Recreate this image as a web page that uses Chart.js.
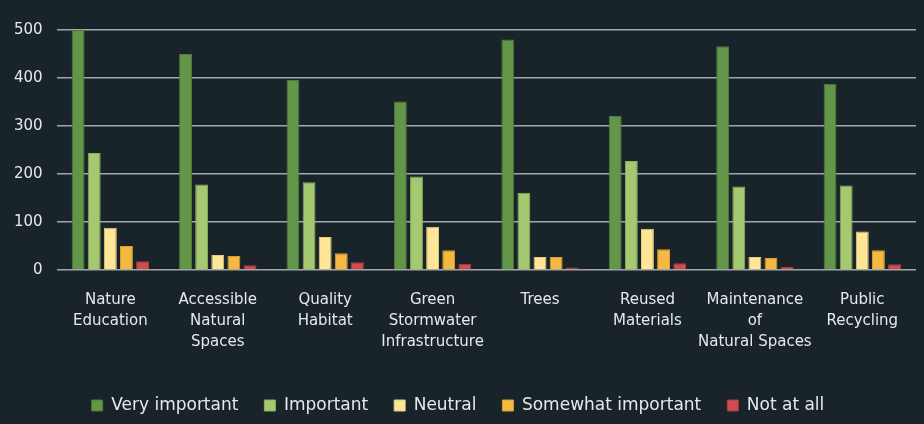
<!DOCTYPE html>
<html>
<head>
<meta charset="utf-8">
<script src="https://cdn.jsdelivr.net/npm/chart.js@4.4.1/dist/chart.umd.min.js"></script>
<style>
	html, body { margin: 0; padding: 0; background: #18242a; }
	#wrap { width: 924px; height: 424px; }
</style>
</head>
<body>
<div id="wrap"><canvas id="barChart"></canvas></div>
<script>
// categories (multi-line labels)
var categories = [
	['Nature', 'Education'],
	['Accessible', 'Natural', 'Spaces'],
	['Quality', 'Habitat'],
	['Green', 'Stormwater', 'Infrastructure'],
	['Trees'],
	['Reused', 'Materials'],
	['Maintenance', 'of', 'Natural Spaces'],
	['Public', 'Recycling']
];

// series values
var veryImportant = [500, 450, 396, 351, 480, 321, 466, 388];
var important = [244, 178, 183, 195, 161, 227, 174, 176];
var neutral = [88, 31, 69, 90, 27, 86, 27, 80];
var somewhatImportant = [50, 29, 35, 41, 27, 43, 25, 41];
var notAtAll = [18, 10, 16, 13, 5, 14, 6, 12];

// y ticks
var yTicks = [0, 100, 200, 300, 400, 500];

var ctx = document.getElementById('barChart').getContext('2d');

function series(label, data, fill, stroke) {
	return {
		label: label,
		data: data,
		backgroundColor: fill,
		borderColor: stroke,
		borderWidth: 1,
		categoryPercentage: 0.75,
		barPercentage: 0.8
	};
}

var barChart = new Chart(ctx, {
	type: 'bar',
	data: {
		labels: categories,
		datasets: [
			series('Very important', veryImportant, '#639648', '#4f7a3b'),
			series('Important', important, '#a5c971', '#8fae60'),
			series('Neutral', neutral, '#ffe596', '#e6cc80'),
			series('Somewhat important', somewhatImportant, '#f5b941', '#d99f33'),
			series('Not at all', notAtAll, '#cf4c50', '#b03c40')
		]
	},
	options: {
		responsive: true,
		maintainAspectRatio: false,
		animation: false,
		layout: {
			padding: { top: 30, left: 0, right: 8, bottom: 0 }
		},
		plugins: {
			tooltip: { enabled: false },
			legend: {
				position: 'bottom',
				labels: {
					color: '#e8e8e8',
					font: { family: 'DejaVu Sans', size: 17 },
					boxWidth: 11,
					boxHeight: 11,
					padding: 26
				}
			}
		},
		scales: {
			x: {
				grid: { display: false },
				border: { display: false },
				ticks: {
					color: '#e8e8e8',
					font: { family: 'DejaVu Sans', size: 15, lineHeight: 1.4 },
					maxRotation: 0,
					autoSkip: false,
					padding: 12
				},
				afterFit: function(scale) { scale.height += 6; }
			},
			y: {
				min: 0,
				max: 500,
				afterBuildTicks: function(scale) {
					scale.ticks = yTicks.map(function(v) { return { value: v }; });
				},
				grid: {
					color: '#a3a7a9',
					lineWidth: 1.5,
					drawTicks: false
				},
				border: { display: false },
				ticks: {
					color: '#e8e8e8',
					font: { family: 'DejaVu Sans', size: 15 },
					padding: 14
				}
			}
		}
	}
});
</script>
</body>
</html>
